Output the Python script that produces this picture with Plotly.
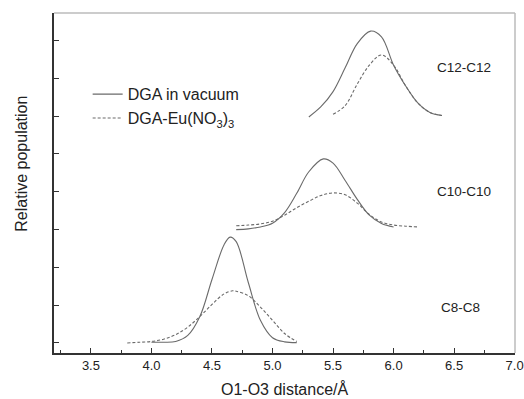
import plotly.graph_objects as go

# C8-C8 (baseline 0)
c8_vac_x = [4.0, 4.1, 4.2, 4.3, 4.4, 4.5, 4.6, 4.65, 4.7, 4.8, 4.9, 5.0, 5.1, 5.2]
c8_vac_y = [0.02, 0.02, 0.04, 0.2, 0.7, 1.68, 2.6, 2.8, 2.68, 1.6, 0.6, 0.14, 0.03, 0.01]
c8_eu_x = [3.8, 3.9, 4.0, 4.1, 4.2, 4.3, 4.4, 4.5, 4.6, 4.67, 4.7, 4.8, 4.9, 5.0, 5.1, 5.2]
c8_eu_y = [0.0, 0.02, 0.04, 0.1, 0.22, 0.42, 0.7, 1.02, 1.3, 1.38, 1.37, 1.25, 0.95, 0.6, 0.25, 0.04]

# C10-C10 (baseline 3)
c10_vac_x = [4.7, 4.8, 4.9, 5.0, 5.1, 5.2, 5.3, 5.42, 5.5, 5.6, 5.7, 5.8, 5.9, 6.0]
c10_vac_y = [3.0, 3.02, 3.07, 3.17, 3.45, 3.96, 4.53, 4.87, 4.76, 4.3, 3.8, 3.38, 3.16, 3.07]
c10_eu_x = [4.7, 4.8, 4.9, 5.0, 5.1, 5.2, 5.3, 5.4, 5.5, 5.6, 5.7, 5.8, 5.9, 6.0, 6.1, 6.2]
c10_eu_y = [3.1, 3.12, 3.15, 3.22, 3.38, 3.58, 3.75, 3.9, 3.97, 3.92, 3.7, 3.4, 3.2, 3.12, 3.09, 3.07]

# C12-C12 (baseline 6)
c12_vac_x = [5.3, 5.4, 5.5, 5.6, 5.7, 5.81, 5.9, 6.0, 6.1, 6.2, 6.3, 6.4]
c12_vac_y = [5.98, 6.25, 6.65, 7.28, 7.92, 8.25, 8.1, 7.35, 6.8, 6.35, 6.1, 6.02]
c12_eu_x = [5.5, 5.6, 5.7, 5.8, 5.9, 6.0, 6.1, 6.2, 6.3, 6.4]
c12_eu_y = [6.05, 6.28, 6.85, 7.35, 7.62, 7.35, 6.8, 6.35, 6.1, 6.02]

series_names = ["DGA in vacuum", "DGA-Eu(NO<sub>3</sub>)<sub>3</sub>"]
group_labels = ["C8-C8", "C10-C10", "C12-C12"]
group_label_x = [6.55, 6.58, 6.58]
group_label_y = [0.95, 4.0, 7.28]

x_ticks = [3.5, 4.0, 4.5, 5.0, 5.5, 6.0, 6.5, 7.0]
x_tick_text = ["3.5", "4.0", "4.5", "5.0", "5.5", "6.0", "6.5", "7.0"]
x_title = "O1-O3 distance/Å"
y_title = "Relative population"

fig = go.Figure()
line_col = "#6a6a6a"
vac = [(c8_vac_x, c8_vac_y), (c10_vac_x, c10_vac_y), (c12_vac_x, c12_vac_y)]
eu = [(c8_eu_x, c8_eu_y), (c10_eu_x, c10_eu_y), (c12_eu_x, c12_eu_y)]
for i, (xs, ys) in enumerate(vac):
    fig.add_trace(go.Scatter(x=xs, y=ys, mode="lines", line=dict(color=line_col, width=1.1, shape="spline"),
                             name=series_names[0], showlegend=(i == 0), legendgroup="a"))
for i, (xs, ys) in enumerate(eu):
    fig.add_trace(go.Scatter(x=xs, y=ys, mode="lines", line=dict(color=line_col, width=1.1, shape="spline", dash="3px,2px"),
                             name=series_names[1], showlegend=(i == 0), legendgroup="b"))

for t, x, y in zip(group_labels, group_label_x, group_label_y):
    fig.add_annotation(x=x, y=y, text=t, showarrow=False, font=dict(size=13.5, color="#222"))

fig.add_annotation(xref="paper", yref="paper", x=0.5, y=-0.106, text=x_title, showarrow=False,
                   xanchor="center", yanchor="middle", font=dict(size=16, color="#222"))
fig.add_annotation(xref="paper", yref="paper", x=-0.07, y=0.556, text=y_title, showarrow=False,
                   textangle=-90, xanchor="center", yanchor="middle", font=dict(size=16, color="#222"))

# light top/right frame
fig.add_shape(type="line", xref="paper", yref="paper", x0=0, x1=1, y0=1, y1=1, line=dict(color="#bbbbbb", width=1.5))
fig.add_shape(type="line", xref="paper", yref="paper", x0=1, x1=1, y0=0, y1=1, line=dict(color="#bbbbbb", width=1.5))

fig.update_layout(
    width=524, height=399,
    margin=dict(l=54, r=9, t=13, b=46),
    paper_bgcolor="white", plot_bgcolor="white",
    font=dict(family="Liberation Sans, Arial, sans-serif", color="#222"),
    legend=dict(x=0.073, y=0.811, xanchor="left", yanchor="top", bgcolor="rgba(0,0,0,0)",
                font=dict(size=16, color="#222"), tracegroupgap=0),
    xaxis=dict(range=[3.195, 7.003], tickvals=x_ticks, ticktext=x_tick_text, ticks="inside", ticklen=5,
               tickcolor="#333", showline=True, linecolor="#333", linewidth=1.5, mirror=False,
               showgrid=False, zeroline=False, tickfont=dict(size=13), automargin=False,
               minor=dict(ticks="inside", ticklen=3, dtick=0.25, tickcolor="#333")),
    yaxis=dict(range=[-0.265, 8.73], tickvals=list(range(0, 9)), showticklabels=False, ticks="inside",
               ticklen=5, tickcolor="#333", showline=True, linecolor="#333", linewidth=1.5, mirror=False,
               showgrid=False, zeroline=False, automargin=False),
)
fig.write_html("out.html", config={"displayModeBar": False},
               post_script="document.body.style.margin='0';document.body.style.overflow='hidden';")
